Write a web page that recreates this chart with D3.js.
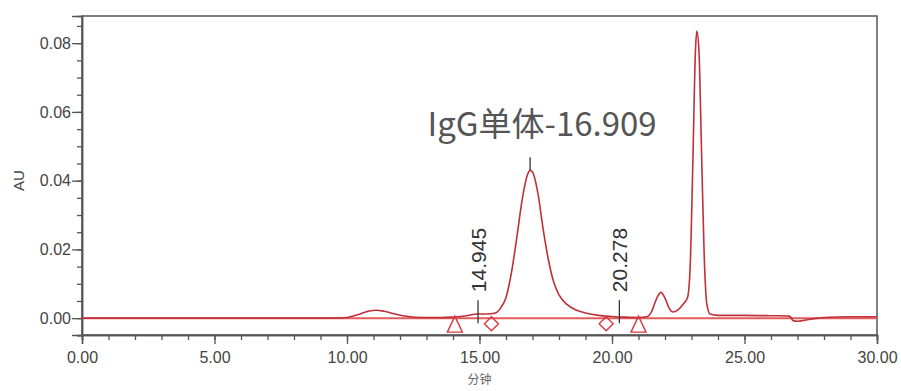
<!DOCTYPE html>
<html>
<head>
<meta charset="utf-8">
<script src="https://cdn.jsdelivr.net/npm/d3@7"></script>
<style>
  body { margin: 0; background: #fff; }
  svg { display: block; }
</style>
</head>
<body>
<div id="chart"></div>
<script>
// retention time (min) and absorbance (AU)
var times = [0, 9.5, 10.0, 10.4, 10.8, 11.1, 11.4, 11.8, 12.3, 12.8, 13.5, 14.0, 14.5, 14.9,
  15.3, 15.6, 15.8, 16.0, 16.2, 16.4, 16.6, 16.8, 16.909, 17.0, 17.2, 17.4, 17.6, 17.8,
  18.0, 18.3, 18.6, 19.0, 19.5, 20.0, 20.5, 21.0, 21.3, 21.5, 21.7, 21.85, 22.0, 22.15,
  22.3, 22.5, 22.7, 22.85, 22.95, 23.05, 23.15, 23.2, 23.28, 23.38, 23.48, 23.58, 23.7,
  24.0, 25.0, 26.0, 26.7, 26.85, 27.0, 27.5, 28.0, 29.0, 30.0];
var absorb = [0, 0, 0.0002, 0.0010, 0.0020, 0.0023, 0.0020, 0.0012, 0.0005, 0.0002, 0.0002, 0.0003, 0.0007, 0.0012,
  0.0012, 0.0015, 0.0030, 0.0060, 0.0130, 0.0230, 0.0340, 0.0415, 0.0430, 0.0425, 0.0365, 0.0260, 0.0170, 0.0105,
  0.0068, 0.0040, 0.0025, 0.0015, 0.0008, 0.0005, 0.0003, 0.0002, 0.0004, 0.0020, 0.0060, 0.0075, 0.0058, 0.0030,
  0.0018, 0.0025, 0.0042, 0.0060, 0.0150, 0.0450, 0.0780, 0.0835, 0.0780, 0.0480, 0.0180, 0.0040, 0.0012,
  0.0008, 0.0008, 0.0007, 0.0006, -0.0008, -0.0009, -0.0003, 0.0002, 0.0004, 0.0004];

var xTicks = [0, 5, 10, 15, 20, 25, 30];
var yTicks = [0, 0.02, 0.04, 0.06, 0.08];

// peak labels
var peakTimes = [14.945, 16.909, 20.278];
var peakLabels = ["14.945", "IgG单体-16.909", "20.278"];

// integration markers
var triTimes = [14.07, 21.0];
var diaTimes = [15.45, 19.78];

var width = 901, height = 391;
var margin = { top: 16, right: 24, bottom: 56, left: 82 };

var svg = d3.select("#chart")
  .append("svg")
  .attr("width", width)
  .attr("height", height);

var x = d3.scaleLinear()
  .domain([0, 30])
  .range([margin.left, width - margin.right]);

var y = d3.scaleLinear()
  .domain([-0.0049, 0.0879])
  .range([height - margin.bottom, margin.top]);

var axisColor = "#555";
var textColor = "#444";

// frame
svg.append("rect")
  .attr("x", x(0))
  .attr("y", y.range()[1])
  .attr("width", x(30) - x(0))
  .attr("height", y.range()[0] - y.range()[1])
  .attr("fill", "none")
  .attr("stroke", axisColor)
  .attr("stroke-width", 1.5);

// x axis
var xAxis = svg.append("g")
  .attr("transform", "translate(0," + y.range()[0] + ")");
xAxis.call(d3.axisBottom(x).tickValues(d3.range(0, 31, 1)).tickSize(5).tickFormat(""));
xAxis.append("g").call(d3.axisBottom(x).tickValues(xTicks).tickSize(9).tickFormat(d3.format(".2f")));
xAxis.selectAll(".domain").attr("stroke", axisColor).attr("stroke-width", 1.5);
xAxis.selectAll(".tick line").attr("stroke", axisColor).attr("stroke-width", 1.3);
xAxis.selectAll(".tick text")
  .attr("fill", textColor)
  .attr("dy", "1.0em")
  .style("font-family", "'Liberation Sans', Arial, sans-serif")
  .style("font-size", "16px");

// y axis
var yAxis = svg.append("g")
  .attr("transform", "translate(" + x(0) + ",0)");
yAxis.call(d3.axisLeft(y).tickValues(d3.range(-0.005, 0.0876, 0.005)).tickSize(5).tickFormat(""));
yAxis.append("g").call(d3.axisLeft(y).tickValues(yTicks).tickSize(10).tickFormat(d3.format(".2f")));
yAxis.selectAll(".domain").attr("stroke", axisColor).attr("stroke-width", 1.5);
yAxis.selectAll(".tick line").attr("stroke", axisColor).attr("stroke-width", 1.3);
yAxis.selectAll(".tick text")
  .attr("fill", textColor)
  .attr("x", -11)
  .style("font-family", "'Liberation Sans', Arial, sans-serif")
  .style("font-size", "16px");

// axis titles
svg.append("text")
  .attr("x", x(15))
  .attr("y", 384)
  .attr("text-anchor", "middle")
  .attr("fill", "#666")
  .style("font-family", "'Noto Sans CJK SC', sans-serif")
  .style("font-size", "12px")
  .text("分钟");

svg.append("text")
  .attr("transform", "translate(24," + y(0.04) + ") rotate(-90)")
  .attr("text-anchor", "middle")
  .attr("fill", textColor)
  .style("font-family", "'Liberation Sans', Arial, sans-serif")
  .style("font-size", "15px")
  .text("AU");

// baseline
svg.append("line")
  .attr("x1", x(0)).attr("x2", x(30))
  .attr("y1", y(0)).attr("y2", y(0))
  .attr("stroke", "#e25c5c")
  .attr("stroke-width", 2);

// trace
var pts = times.map(function (t, i) { return [t, absorb[i]]; });
var line = d3.line()
  .x(function (d) { return x(d[0]); })
  .y(function (d) { return y(d[1]); })
  .curve(d3.curveMonotoneX);

svg.append("path")
  .datum(pts)
  .attr("d", line)
  .attr("fill", "none")
  .attr("stroke", "#c0303a")
  .attr("stroke-width", 1.6);

// integration markers
svg.selectAll(".tri")
  .data(triTimes)
  .enter()
  .append("path")
  .attr("class", "tri")
  .attr("d", "M0,-8L7.5,8L-7.5,8Z")
  .attr("transform", function (d) { return "translate(" + x(d) + "," + (y(0) + 6) + ")"; })
  .attr("fill", "none")
  .attr("stroke", "#d9383f")
  .attr("stroke-width", 1.4);

svg.selectAll(".dia")
  .data(diaTimes)
  .enter()
  .append("path")
  .attr("class", "dia")
  .attr("d", "M0,-7L7,0L0,7L-7,0Z")
  .attr("transform", function (d) { return "translate(" + x(d) + "," + (y(0) + 5.5) + ")"; })
  .attr("fill", "none")
  .attr("stroke", "#d9383f")
  .attr("stroke-width", 1.4);

// peak annotations
var peakVals = peakTimes.map(function (t) {
  var i = d3.bisectLeft(times, t);
  return Math.max(absorb[Math.min(i, times.length - 1)], absorb[Math.max(i - 1, 0)]);
});

// small rotated labels
[0, 2].forEach(function (k) {
  var px = x(peakTimes[k]);
  svg.append("line")
    .attr("x1", px).attr("x2", px)
    .attr("y1", y(0) - 18).attr("y2", y(0) + 5)
    .attr("stroke", "#333")
    .attr("stroke-width", 1.3);
  svg.append("text")
    .attr("transform", "translate(" + px + "," + (y(0) - 26) + ") rotate(-90)")
    .attr("dy", "0.36em")
    .attr("fill", "#333")
    .style("font-family", "'Liberation Sans', Arial, sans-serif")
    .style("font-size", "21px")
    .text(peakLabels[k]);
});

// main peak label
var mx = x(peakTimes[1]);
var my = y(peakVals[1]);
svg.append("line")
  .attr("x1", mx).attr("x2", mx)
  .attr("y1", my - 13).attr("y2", my)
  .attr("stroke", "#333")
  .attr("stroke-width", 1.3);
svg.append("text")
  .attr("x", mx + 12)
  .attr("y", my - 34)
  .attr("text-anchor", "middle")
  .attr("fill", "#555")
  .style("font-family", "'Noto Sans CJK SC', sans-serif")
  .style("font-size", "33px")
  .text(peakLabels[1]);
</script>
</body>
</html>
